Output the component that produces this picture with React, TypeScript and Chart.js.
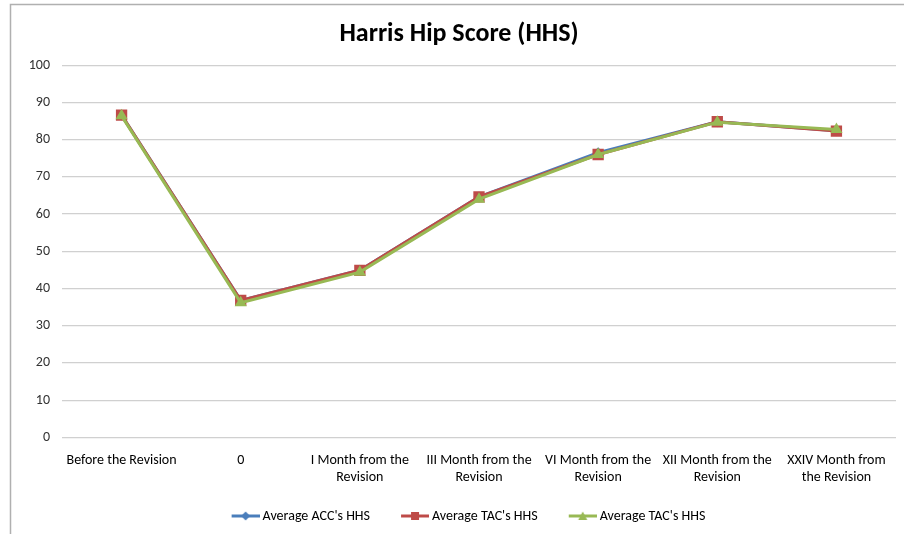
import React, { useEffect, useRef } from "react";
import { Chart, registerables } from "chart.js";

Chart.register(...registerables);

const categories: string[][] = [
  ["Before the Revision"],
  ["0"],
  ["I Month from the", "Revision"],
  ["III Month from the", "Revision"],
  ["VI Month from the", "Revision"],
  ["XII Month from the", "Revision"],
  ["XXIV Month from", "the Revision"],
];
const accValues = [86.6, 36.8, 44.9, 64.6, 76.5, 84.8, 82.4];
const tacValues = [86.6, 36.8, 44.9, 64.6, 76.0, 84.8, 82.3];
const tac2Values = [86.4, 36.2, 44.4, 64.0, 76.0, 84.7, 82.7];
const seriesNames = ["Average ACC's HHS", "Average TAC's HHS", "Average TAC's HHS"];
const yTicks = [0, 10, 20, 30, 40, 50, 60, 70, 80, 90, 100];

const FONT = "Carlito, 'Liberation Sans Narrow', 'DejaVu Sans Condensed', 'Open Sans', sans-serif";
const COLORS = ["#4A7EBB", "#BE4B48", "#98B954"];
const STYLES = ["rectRot", "rect", "triangle"];
const RADII = [5.5, 8, 7];

const ICON_W = 51; // image width
const ICON_BOX = 43; // reserved width
const LINE_LEN = 28;

function legendIcon(color: string, style: string): HTMLCanvasElement {
  const c = document.createElement("canvas");
  c.width = ICON_W;
  c.height = 12;
  const ctx = c.getContext("2d")!;
  const x0 = ICON_W - LINE_LEN;
  const cx = x0 + LINE_LEN / 2;
  ctx.strokeStyle = color;
  ctx.fillStyle = color;
  ctx.lineWidth = 3;
  ctx.beginPath();
  ctx.moveTo(x0, 6);
  ctx.lineTo(ICON_W, 6);
  ctx.stroke();
  ctx.beginPath();
  if (style === "rect") {
    ctx.rect(cx - 4, 2, 8, 8);
  } else if (style === "rectRot") {
    ctx.moveTo(cx, 1.5);
    ctx.lineTo(cx + 4.5, 6);
    ctx.lineTo(cx, 10.5);
    ctx.lineTo(cx - 4.5, 6);
    ctx.closePath();
  } else {
    ctx.moveTo(cx, 1.5);
    ctx.lineTo(cx + 4.5, 10);
    ctx.lineTo(cx - 4.5, 10);
    ctx.closePath();
  }
  ctx.fill();
  return c;
}

const framePlugin = {
  id: "frame",
  beforeDraw(chart: any) {
    const ctx = chart.ctx;
    ctx.save();
    ctx.fillStyle = "#ffffff";
    ctx.fillRect(0, 0, chart.width, chart.height);
    ctx.strokeStyle = "#b0b0b0";
    ctx.lineWidth = 1.5;
    ctx.beginPath();
    ctx.moveTo(10.5, chart.height);
    ctx.lineTo(10.5, 4.5);
    ctx.lineTo(chart.width, 4.5);
    ctx.stroke();
    ctx.restore();
  },
};

export default function App() {
  const ref = useRef<HTMLCanvasElement | null>(null);
  useEffect(() => {
    if (!ref.current) return;
    const values = [accValues, tacValues, tac2Values];
    const icons = COLORS.map((c, i) => legendIcon(c, STYLES[i]));
    const chart = new Chart(ref.current, {
      type: "line",
      data: {
        labels: categories,
        datasets: values.map((v, i) => ({
          label: seriesNames[i],
          data: v,
          order: 2 - i,
          borderColor: COLORS[i],
          backgroundColor: COLORS[i],
          borderWidth: 3,
          pointStyle: STYLES[i] as any,
          pointRadius: RADII[i],
          pointBorderWidth: 0,
          pointBackgroundColor: COLORS[i],
          tension: 0,
        })),
      },
      options: {
        animation: false,
        responsive: false,
        layout: { padding: { left: 14, right: 0, top: 19, bottom: 1 } },
        plugins: {
          tooltip: { enabled: false },
          title: {
            display: true,
            text: "Harris Hip Score (HHS)",
            color: "#000000",
            font: { family: FONT, size: 26, weight: "bold" },
            padding: { top: 0, bottom: 15 },
          },
          legend: {
            position: "bottom",
            labels: {
              color: "#000000",
              font: { family: FONT, size: 14 },
              usePointStyle: true,
              pointStyleWidth: ICON_BOX,
              boxHeight: 12,
              padding: 12,
              generateLabels: (c: any) =>
                c.data.datasets.map((d: any, i: number) => ({
                  text: d.label,
                  pointStyle: icons[i],
                  fillStyle: COLORS[i],
                  strokeStyle: COLORS[i],
                  lineWidth: 0,
                  hidden: false,
                  datasetIndex: i,
                  fontColor: "#000000",
                })),
            },
          },
        },
        scales: {
          x: {
            offset: true,
            afterFit: (axis: any) => {
              axis.height += 4;
            },
            grid: { display: false },
            border: { display: false },
            ticks: {
              color: "#000000",
              font: { family: FONT, size: 14, lineHeight: 1.2 },
              maxRotation: 0,
              autoSkip: false,
              padding: 7,
            },
          },
          y: {
            min: 0,
            max: 100,
            afterBuildTicks: (axis: any) => {
              axis.ticks = yTicks.map((v) => ({ value: v }));
            },
            afterFit: (axis: any) => {
              axis.width = 48;
            },
            grid: { color: "#d0d0d0", lineWidth: 1.2, drawTicks: false },
            border: { display: false },
            ticks: {
              color: "#333333",
              font: { family: FONT, size: 14 },
              padding: 12,
            },
          },
        },
      },
      plugins: [framePlugin],
    });
    return () => chart.destroy();
  }, []);
  return (
    <div style={{ position: "fixed", left: 0, top: 0, width: 904, height: 534, background: "#fff" }}>
      <canvas ref={ref} width={904} height={534} style={{ display: "block" }} />
    </div>
  );
}
